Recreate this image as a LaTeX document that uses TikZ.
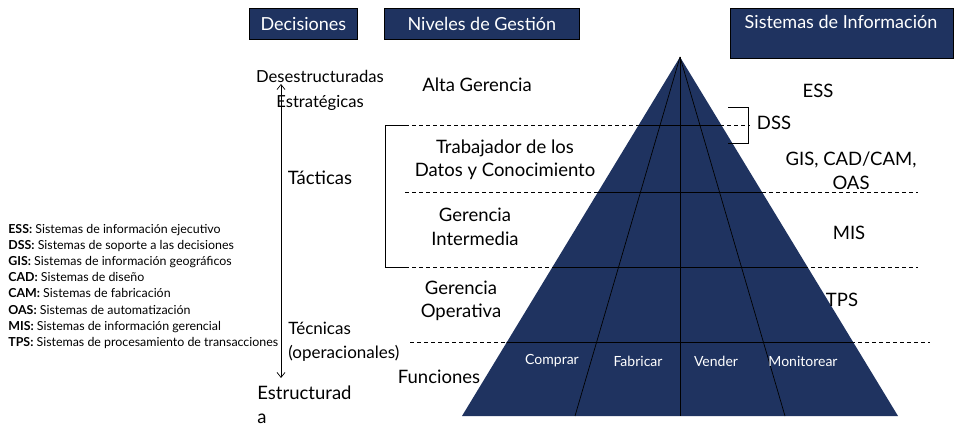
\documentclass[tikz,border=0pt]{standalone}
\usepackage{fontspec}
\setmainfont{Lato}
\usetikzlibrary{arrows.meta}
\definecolor{navy}{RGB}{31,51,96}
\tikzset{
  hdrbox/.style={draw=black, fill=navy, anchor=north west, inner sep=0pt, text=white,
    font=\fontsize{18}{21}\selectfont},
  lbl/.style={font=\fontsize{18.5}{23.5}\selectfont, align=center, inner sep=0pt},
  fnlbl/.style={text=white, font=\fontsize{14}{16}\selectfont, inner sep=0pt},
  legend/.style={font=\fontsize{12.4}{14}\selectfont, anchor=base west, inner sep=0pt},
  level/.style={dash pattern=on 4pt off 3pt, line width=0.6pt},
}
\begin{document}
\begin{tikzpicture}[x=1pt, y=-1pt, line width=0.7pt]
  \useasboundingbox (0,0) rectangle (976,427);
  % header boxes
  \node[hdrbox, minimum width=108, minimum height=31] (dec) at (249,8) {Decisiones};
  \node[hdrbox, minimum width=195, minimum height=31] (niv) at (384,8) {Niveles de Gesti\'on};
  \node[hdrbox, minimum width=223, minimum height=50] (sisbox) at (730,8) {};
  \node[text=white, font=\fontsize{18}{21}\selectfont, inner sep=0pt] (sis) at (841,22) {Sistemas de Informaci\'on};

  % pyramid
  \coordinate (apex) at (680,57);
  \coordinate (bl) at (462,416);
  \coordinate (br) at (898,416);
  \coordinate (b1) at (575,416);
  \coordinate (b0) at (680,416);
  \coordinate (b2) at (785,416);
  \draw[level] (405,125) -- (750,125);
  \draw[level] (405,192) -- (918,192);
  \draw[level] (405,267) -- (918,267);
  \draw[level] (410,342) -- (930,342);
  \fill[navy] (apex) -- (bl) -- (br) -- cycle;
  \begin{scope}
    \clip (apex) -- (bl) -- (br) -- cycle;
    \draw (400,125) -- (950,125);
    \draw (400,192) -- (950,192);
    \draw (400,267) -- (950,267);
    \draw (400,342) -- (950,342);
  \end{scope}
  \draw (apex) -- (b1);
  \draw (apex) -- (b0);
  \draw (apex) -- (b2);

  % brackets
  \draw (405,125) -- (385,125) -- (385,267) -- (405,267);
  \draw (728,107) -- (748,107) -- (748,143) -- (728,143);

  % decisions axis
  \coordinate (top) at (281,84);
  \coordinate (bot) at (281,378);
  \draw[{Straight Barb[length=5pt,width=8pt]}-{Straight Barb[length=5pt,width=8pt]}] (top) -- (bot);
  \node[lbl, font=\fontsize{16.6}{25}\selectfont] (desest) at (320,90) {Desestructuradas\\Estrat\'egicas};
  \node[lbl] (tact) at (320,178) {T\'acticas};
  \node[lbl, align=left, anchor=west, font=\fontsize{17}{23.5}\selectfont] (tecn) at (288,342) {T\'ecnicas\\(operacionales)};
  \node[lbl, align=left, anchor=west, font=\fontsize{18.5}{24}\selectfont] (estr) at (257,405) {Estructurad\\a};

  % management levels
  \node[lbl] (alta) at (477,85) {Alta Gerencia};
  \node[lbl] (trab) at (505,160) {Trabajador de los\\Datos y Conocimiento};
  \node[lbl] (inter) at (475,227) {Gerencia\\Intermedia};
  \node[lbl] (oper) at (461,301) {Gerencia\\Operativa};
  \node[lbl] (func) at (439,377) {Funciones};

  % functions
  \node[fnlbl] (comp) at (552,361) {Comprar};
  \node[fnlbl] (fabr) at (638,361) {Fabricar};
  \node[fnlbl] (vend) at (716,361) {Vender};
  \node[fnlbl] (moni) at (803,361) {Monitorear};

  % information systems
  \node[lbl] (ess) at (818,91) {ESS};
  \node[lbl] (dss) at (774,123) {DSS};
  \node[lbl] (gis) at (851,171) {GIS, CAD/CAM,\\OAS};
  \node[lbl] (mis) at (849,233) {MIS};
  \node[lbl] (tps) at (842,300) {TPS};

  % legend
  \node[legend] (l1) at (8,234) {\textbf{ESS:} Sistemas de informaci\'on ejecutivo};
  \node[legend] (l2) at (8,250) {\textbf{DSS:} Sistemas de soporte a las decisiones};
  \node[legend] (l3) at (8,266) {\textbf{GIS:} Sistemas de informaci\'on geogr\'aficos};
  \node[legend] (l4) at (8,282) {\textbf{CAD:} Sistemas de dise\~no};
  \node[legend] (l5) at (8,298) {\textbf{CAM:} Sistemas de fabricaci\'on};
  \node[legend] (l6) at (8,314) {\textbf{OAS:} Sistemas de automatizaci\'on};
  \node[legend] (l7) at (8,330) {\textbf{MIS:} Sistemas de informaci\'on gerencial};
  \node[legend] (l8) at (8,346) {\textbf{TPS:} Sistemas de procesamiento de transacciones};
\end{tikzpicture}
\end{document}
